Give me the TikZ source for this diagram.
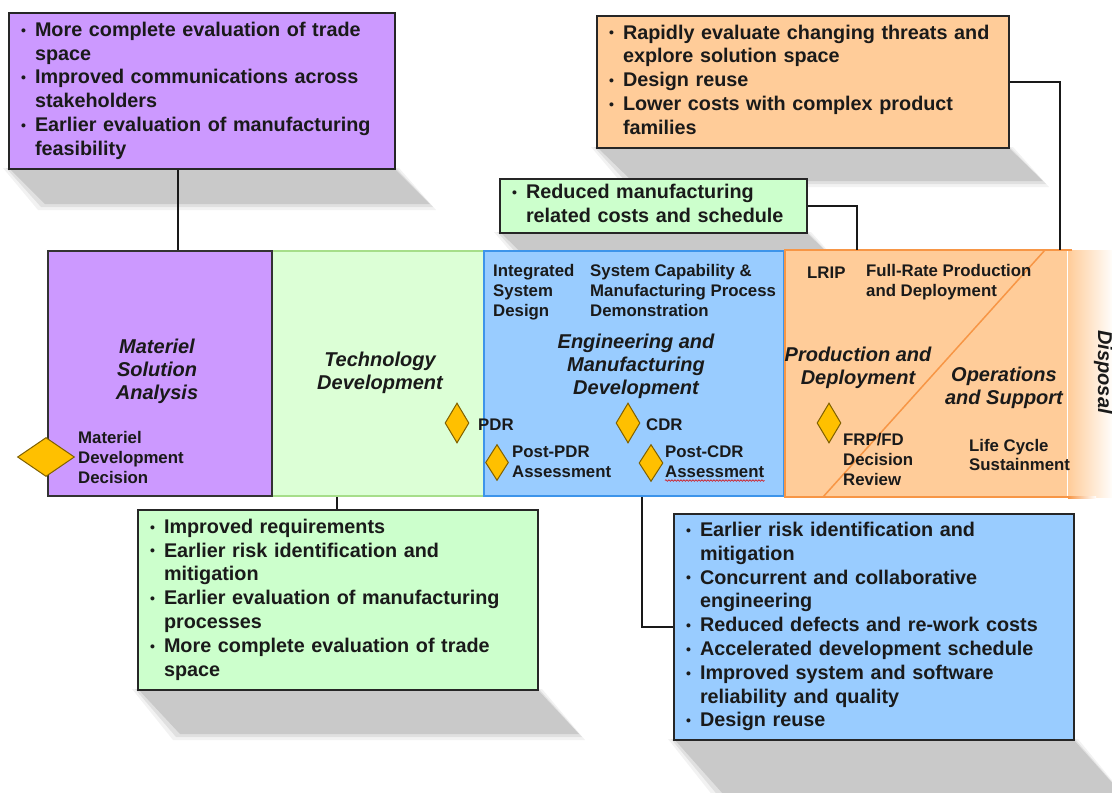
\documentclass[tikz,border=0pt]{standalone}
\usepackage{fontspec}
\setmainfont{Liberation Sans}
\usetikzlibrary{shapes.geometric,calc,decorations.pathmorphing}

\definecolor{purp}{HTML}{CC99FF}
\definecolor{lgreen}{HTML}{DCFFD6}
\definecolor{gbox}{HTML}{CCFFCC}
\definecolor{gborder}{HTML}{A6DE8A}
\definecolor{bluef}{HTML}{99CCFF}
\definecolor{blueb}{HTML}{3D94EA}
\definecolor{peach}{HTML}{FFCC99}
\definecolor{orb}{HTML}{F79646}
\definecolor{gold}{HTML}{FFC000}
\definecolor{goldb}{HTML}{7F6000}
\definecolor{ink}{HTML}{1A1A1A}

\newcommand\bl{\makebox[14pt][l]{\raisebox{1.2pt}{\fontsize{14}{14}\selectfont •}}}
\newcommand\ind{\hspace*{14pt}}
\newcommand\mlines[2][l]{\begin{tabular}{@{}#1@{}}#2\end{tabular}}
% soft shadow: top edge x1..x2 at y1, bottom edge shifted by dx at y2
\newcommand\softshadow[5]{%
  \fill[black, opacity=0.05] (#1-5,#3) -- (#2+5,#3) -- (#2+#5+6,#4+5) -- (#1+#5-6,#4+5) -- cycle;
  \fill[black, opacity=0.07] (#1-2,#3) -- (#2+2,#3) -- (#2+#5+3,#4+2) -- (#1+#5-3,#4+2) -- cycle;
  \fill[black, opacity=0.10] (#1+1,#3) -- (#2,#3) -- (#2+#5,#4-1) -- (#1+#5+1,#4-1) -- cycle;
}

\tikzset{
  benefit/.style={draw=black!85, line width=2pt, rectangle, anchor=north west,
    inner xsep=12pt, inner ysep=0pt, font=\fontsize{19.8}{23.8}\selectfont\bfseries,
    text=ink, align=left},
  phase/.style={rectangle, anchor=north west, inner sep=0pt, line width=2pt, minimum height=245pt},
  link/.style={draw=black!90, line width=2pt},
  phaselabel/.style={font=\fontsize{20}{23}\selectfont\bfseries\itshape, text=ink, inner sep=0pt},
  small/.style={font=\fontsize{16.8}{19.8}\selectfont\bfseries, text=ink, inner sep=0pt, anchor=west},
  milestone/.style={diamond, draw=goldb, fill=gold, line width=1pt, inner sep=0pt},
}

\begin{document}
\begin{tikzpicture}[x=1pt,y=-1pt]
\useasboundingbox (0,0) rectangle (1112,793);
\fill[white] (0,0) rectangle (1112,793);

% shadows
\softshadow{8}{394}{168}{205}{36}
\softshadow{596}{1008}{147}{182}{35}
\softshadow{499}{806}{232}{268}{36}
\softshadow{137}{537}{689}{735}{42}
\softshadow{673}{1073}{739}{796}{50}

% benefit boxes
\node[benefit, fill=purp, text width=362pt, minimum height=156pt] (topP) at (8,12) {\noindent\mlines{%
\bl More complete evaluation of trade\\
\ind space\\
\bl Improved communications across\\
\ind stakeholders\\
\bl Earlier evaluation of manufacturing\\
\ind feasibility}};

\node[benefit, fill=peach, text width=388pt, minimum height=132pt] (topO) at (596,15) {\noindent\mlines{%
\bl Rapidly evaluate changing threats and\\
\ind explore solution space\\
\bl Design reuse\\
\bl Lower costs with complex product\\
\ind families}};

\node[benefit, fill=gbox, text width=283pt, minimum height=54pt] (topG) at (499,178) {\noindent\mlines{%
\bl Reduced manufacturing\\
\ind related costs and schedule}};

\node[benefit, fill=gbox, text width=376pt, minimum height=180pt] (botG) at (137,509) {\noindent\mlines{%
\bl Improved requirements\\
\bl Earlier risk identification and\\
\ind mitigation\\
\bl Earlier evaluation of manufacturing\\
\ind processes\\
\bl More complete evaluation of trade\\
\ind space}};

\node[benefit, fill=bluef, text width=376pt, minimum height=226pt] (botB) at (673,513) {\noindent\mlines{%
\bl Earlier risk identification and\\
\ind mitigation\\
\bl Concurrent and collaborative\\
\ind engineering\\
\bl Reduced defects and re-work costs\\
\bl Accelerated development schedule\\
\bl Improved system and software\\
\ind reliability and quality\\
\bl Design reuse}};

% phase band
\node[phase, fill=lgreen, draw=gborder, minimum width=212pt] (td) at (271,250) {};
\node[phase, fill=purp, draw=black!80, minimum width=224pt] (msa) at (47,250) {};
\node[phase, fill=bluef, draw=blueb, minimum width=300pt] (emd) at (483,250) {};
\node[phase, fill=peach, minimum width=281pt] (opd) at (785,250) {};
\shade[left color=peach, right color=white] (opd.north east) rectangle ($(opd.south east)+(46,0)$);
\draw[orb, line width=2pt] ($(opd.north east)+(4,0)$) -- (opd.north west) -- (opd.south west) -- (opd.south east);
\shade[left color=orb, right color=white] ($(opd.south east)+(0,-1)$) rectangle ($(opd.south east)+(28,1)$);
\draw[orb, line width=1.5pt] ($(opd.north west)+(260,0)$) -- ($(opd.south west)+(38,0)$);

% connectors
\coordinate (cP) at ($(topP.south west)!0.438!(topP.south east)$);
\draw[link] (cP) -- (cP |- msa.north);
\coordinate (cO) at ($(opd.north west)+(275,0)$);
\draw[link] (topO.east) -| (cO);
\coordinate (cG) at ($(opd.north west)+(72,0)$);
\draw[link] (topG.east) -| (cG);
\coordinate (cT) at ($(td.south west)+(66,0)$);
\draw[link] (cT) -- (cT |- botG.north);
\coordinate (cE) at ($(emd.south west)+(159,0)$);
\draw[link] (cE) |- (botB.west);

% phase labels
\node[phaselabel] (lmsa) at (157,372) {\mlines[c]{Materiel\\Solution\\Analysis}};
\node[phaselabel] (ltd) at (380,373.5) {\mlines[c]{Technology\\Development}};
\node[phaselabel] (lemd) at (636,367) {\mlines[c]{Engineering and\\Manufacturing\\Development}};
\node[phaselabel] (lpd) at (858,368) {\mlines[c]{Production and\\Deployment}};
\node[phaselabel] (los) at (1004,388.5) {\mlines[c]{Operations\\and Support}};
\node[phaselabel, rotate=-90, anchor=base] (ldisp) at (1098,372) {Disposal};

% small labels
\node[small] (lisd) at (493,292.5) {\mlines{Integrated\\System\\Design}};
\node[small] (lscm) at (590,292.5) {\mlines{System Capability \&\\Manufacturing Process\\Demonstration}};
\node[small] (llrip) at (807,272.5) {LRIP};
\node[small] (lfrp) at (866,282.5) {\mlines{Full-Rate Production\\and Deployment}};
\node[small] (lmdd) at (78,459.5) {\mlines{Materiel\\Development\\Decision}};
\node[small] (lpdr) at (478,424.5) {PDR};
\node[small] (lcdr) at (646,424.5) {CDR};
\node[small] (lppdr) at (512,463.5) {\mlines{Post-PDR\\Assessment}};
\node[small] (lpcdr) at (665,463.5) {\mlines{Post-CDR\\Assessment}};
\node[small] (lfrpd) at (843,461.5) {\mlines{FRP/FD\\Decision\\Review}};
\node[small] (llcs) at (969,457) {\mlines{Life Cycle\\Sustainment}};
\draw[red!85!black, line width=0.6pt, decorate, decoration={snake, amplitude=0.8pt, segment length=3pt}]
  ([yshift=3pt]lpcdr.south west) -- ([yshift=3pt]lpcdr.south east);

% milestones
\node[milestone, minimum width=57pt, minimum height=39pt] (mdd) at (46,457) {};
\node[milestone, minimum width=24pt, minimum height=40pt] (pdr) at (457,423) {};
\node[milestone, minimum width=24pt, minimum height=40pt] (cdr) at (628,423) {};
\node[milestone, minimum width=23pt, minimum height=36pt] (ppdr) at (497,462.5) {};
\node[milestone, minimum width=24pt, minimum height=37pt] (pcdr) at (651,463) {};
\node[milestone, minimum width=24pt, minimum height=40pt] (frp) at (829,423) {};
\end{tikzpicture}
\end{document}
